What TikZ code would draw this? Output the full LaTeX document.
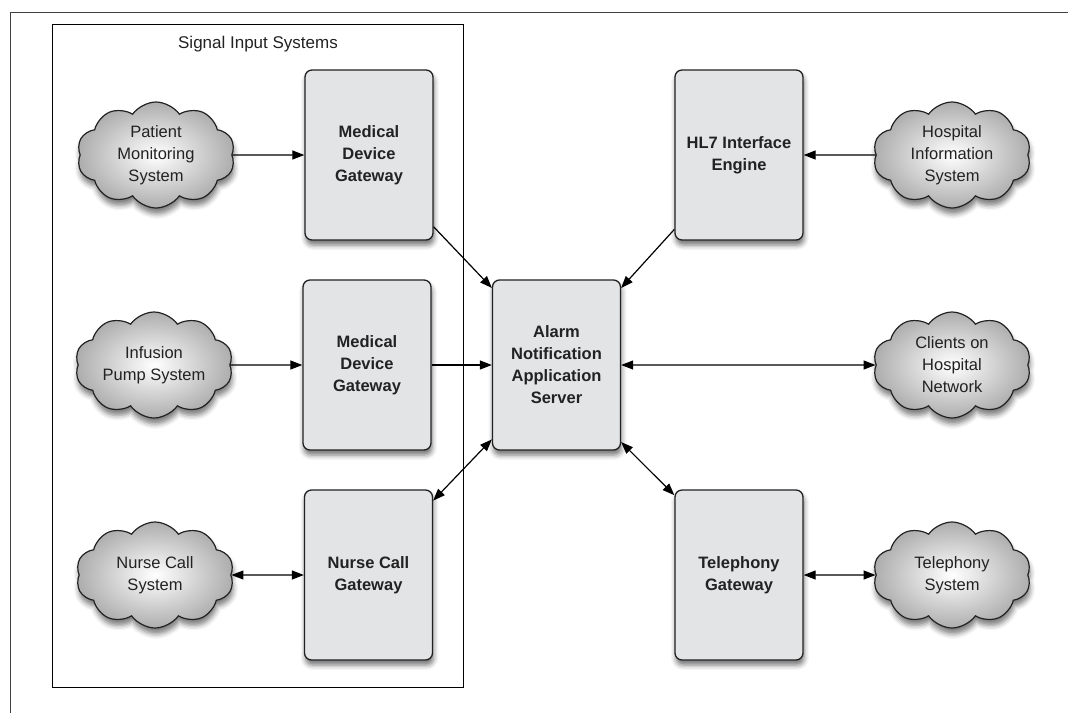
\documentclass[tikz,border=0pt]{standalone}
\usepackage{fontspec}
\setmainfont{Liberation Sans}
\usetikzlibrary{shapes.symbols,arrows.meta,shadows.blur}
\definecolor{boxfill}{HTML}{E3E4E6}
\definecolor{ink}{HTML}{222222}
\tikzset{
  gatebox/.style={draw=ink, line width=1.3pt, fill=boxfill, rounded corners=7pt,
    minimum width=128pt, minimum height=170pt, inner sep=0pt, align=center,
    font=\fontsize{16.5}{22}\selectfont\bfseries, text=ink,
    blur shadow={shadow xshift=1pt, shadow yshift=-5pt, shadow blur radius=5pt, shadow opacity=55}},
  cloudnode/.style={cloud, cloud puffs=10, cloud puff arc=110, cloud ignores aspect, draw=ink, line width=1.2pt,
    minimum width=158pt, minimum height=106pt, inner sep=0pt, align=center,
    shading=radial, inner color=white, outer color=black!32,
    font=\fontsize{16.5}{22}\selectfont, text=ink,
    blur shadow={shadow xshift=1pt, shadow yshift=-6pt, shadow blur radius=5pt, shadow opacity=50}},
  conn/.style={line width=1.2pt, draw=black, -{Triangle[length=12pt,width=9pt]}},
  biconn/.style={line width=1.2pt, draw=black, {Triangle[length=12pt,width=9pt]}-{Triangle[length=12pt,width=9pt]}}
}
\begin{document}
\begin{tikzpicture}[x=1pt,y=-1pt]
\useasboundingbox (0,0) rectangle (1068,713);
% page frame (top and left edges)
\coordinate (fbl) at (10,713);
\coordinate (ftl) at (10,12);
\coordinate (ftr) at (1068,12);
\draw[line width=0.8pt, draw=black!75] (fbl) -- (ftl) -- (ftr);
% container
\node[draw=black, line width=1pt, minimum width=411pt, minimum height=663pt, inner sep=0pt] (sis) at (257.5,355.5) {};
\node[font=\fontsize{17}{22}\selectfont, text=ink] (sistitle) at (258,44) {Signal Input Systems};
% boxes
\node[gatebox] (mdg1) at (369,155) {Medical\\Device\\Gateway};
\node[gatebox] (mdg2) at (367,365) {Medical\\Device\\Gateway};
\node[gatebox] (ncg) at (368.5,575) {Nurse Call\\Gateway};
\node[gatebox] (alarm) at (556.5,365) {Alarm\\Notification\\Application\\Server};
\node[gatebox] (hl7) at (739,155) {HL7 Interface\\Engine};
\node[gatebox] (tg) at (739,575) {Telephony\\Gateway};
% clouds
\node[cloudnode] (pms) at (156,155) {Patient\\Monitoring\\System};
\node[cloudnode] (ips) at (154,365) {Infusion\\Pump System};
\node[cloudnode] (ncs) at (155,575) {Nurse Call\\System};
\node[cloudnode] (his) at (952,155) {Hospital\\Information\\System};
\node[cloudnode] (cli) at (952,365) {Clients on\\Hospital\\Network};
\node[cloudnode] (ts) at (952,575) {Telephony\\System};
% connectors
\draw[conn] (pms.east) -- (mdg1.west);
\draw[conn] (ips.east) -- (mdg2.west);
\draw[biconn] (ncs.east) -- (ncg.west);
\draw[conn] (his.west) -- (hl7.east);
\draw[biconn] (alarm.east) -- (cli.west);
\draw[biconn] (tg.east) -- (ts.west);
\draw[conn] (mdg2.east) -- (alarm.west);
\draw[conn] (mdg1.-48.8) -- (alarm.130.6);
\draw[conn] (hl7.229.5) -- (alarm.50.2);
\draw[biconn] (alarm.229.5) -- (ncg.49.7);
\draw[biconn] (alarm.310.5) -- (tg.129.6);
\end{tikzpicture}
\end{document}
